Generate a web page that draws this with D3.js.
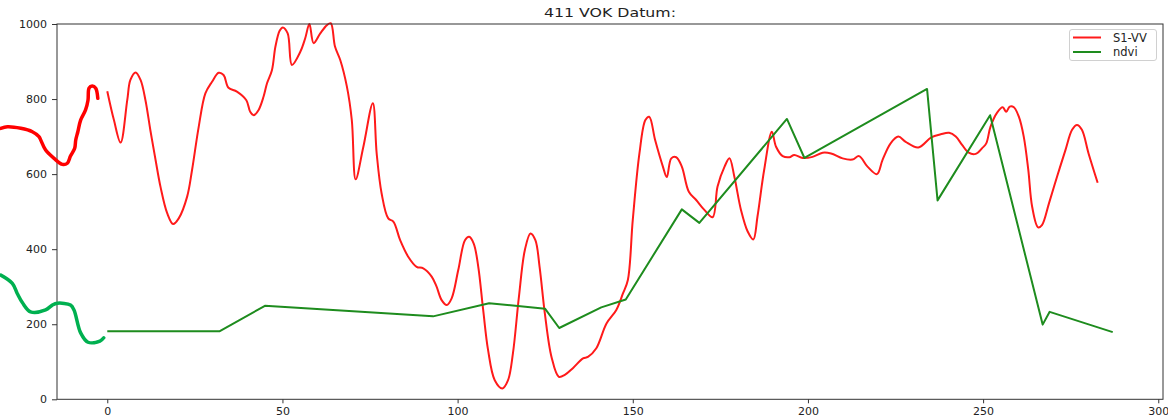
<!DOCTYPE html>
<html><head><meta charset="utf-8">
<script src="https://cdn.jsdelivr.net/npm/d3@7"></script>
<style>
html,body{margin:0;padding:0;background:#fff;}
svg{display:block;font-family:"DejaVu Sans",sans-serif;}
</style></head>
<body><svg id="c" width="1168" height="418"></svg>
<script>
// S1-VV series (day, value)
const vvDays = [0,1.9,3.8,5.7,6.6,8.1,9.5,10.9,12.3,13.8,15.2,17.1,18.8,20.4,22.8,24.2,26.1,28,29.9,31.8,33.2,34.6,37,39.7,40.8,41.8,43.2,44.6,45.6,47,48,49.2,50.1,51.5,52.7,55.1,56.5,57.7,58.9,60.8,62.7,63.8,65,66.5,68.4,69.8,70.9,73.1,75.8,76.9,78.3,80.2,81.7,83.6,85.9,88.3,90.2,92.6,94,95.4,96.9,98.3,100.2,102.1,103.3,104.6,105.9,107.3,108.7,110.6,112.8,114.4,115.8,117.5,119.2,120.8,122.2,123.4,124.9,126.8,128.9,130.6,132.9,135.8,137.2,139.6,142.5,145.3,147.2,148.6,150,151.9,153.6,154.7,156.4,158.6,159.7,161,162.4,164,166,168.1,170.5,172.8,174.2,176.2,177.6,179,180.9,182.8,184.4,185.6,187.5,189.7,190.9,192.8,194.7,196.1,198.5,201.3,204.2,206.6,209.9,212.7,214.6,217,219.7,221.3,223.6,225.8,227.9,231.5,235.2,237.9,240.3,242.2,244,245.9,247.9,249.7,250.9,252.1,254,255.6,256.6,257.6,258.8,260.2,261.6,262.9,264,265.7,266.8,268.8,271.1,273.5,275.4,276.8,278.2,280.1,282.7];
const vvValues = [821,744,684,797,851,871,851,797,717,637,566,496,467,482,540,611,726,815,846,870,864,830,820,797,766,757,771,806,842,877,940,982,991,975,891,926,962,1000,949,975,997,1002,940,904,833,744,586,673,789,655,549,482,473,424,380,353,349,327,300,265,251,269,345,424,433,415,353,238,131,51,29,51,123,273,398,442,424,353,229,113,60,65,83,109,113,136,202,238,282,318,478,655,744,753,690,620,592,642,645,620,553,531,504,485,567,620,642,593,504,447,426,487,611,713,673,648,645,651,643,646,657,655,642,639,648,620,600,638,682,700,686,671,698,706,710,700,678,657,654,669,682,726,764,778,766,780,778,753,700,611,513,458,464,522,593,664,718,731,718,655,577];
// NDVI series
const ndviDays = [0,32,45,93,109,125,129,141,148,164,169,194,199,234,237,252,267,269,287];
const ndviValues = [181,181,249,221,256,241,190,245,266,506,470,747,643,827,530,757,199,233,179];
// hand-drawn annotation strokes (in data units)
const markRedX = [-30.4,-28.5,-24.7,-21.4,-19.5,-19.0,-17.6,-15.2,-12.8,-11.4,-10.5,-9.3,-9.0,-8.4,-7.6,-6.2,-5.5,-5.2,-4.3,-3.3,-2.7];
const markRedY = [722,726,722,713,700,691,664,642,626,629,648,669,691,713,744,771,797,829,835,829,802];
const markGreenX = [-30.4,-27.1,-25.7,-24.2,-21.9,-17.6,-15.7,-14.2,-10.5,-9.5,-7.6,-5.5,-2.1,-1.0];
const markGreenY = [331,309,282,257,233,238,251,256,251,238,177,152,155,164];
const xTicks = [0,50,100,150,200,250,300];
const yTicks = [0,200,400,600,800,1000];
const title = "411 VOK Datum:";
const seriesNames = ["S1-VV","ndvi"];

const svg = d3.select("#c");
const L=57, R=1163, T=24, B=399.3;
const x = d3.scaleLinear().domain([-14.35,301.35]).range([L,R]);
const y = d3.scaleLinear().domain([0,1000]).range([B,T]);

svg.append("defs").append("clipPath").attr("id","clip")
  .append("rect").attr("x",L).attr("y",T-2).attr("width",R-L).attr("height",B-T+2);

const axisColor="#333";
// x axis
const gx = svg.append("g").attr("transform",`translate(0,${B})`)
  .call(d3.axisBottom(x).tickValues(xTicks).tickFormat(d3.format("d")).tickSize(4).tickPadding(4));
gx.select(".domain").remove();
gx.selectAll("line").attr("stroke",axisColor);
gx.selectAll("text").attr("font-size","11px").attr("fill","#222").attr("font-family","DejaVu Sans");
// y axis
const gy = svg.append("g").attr("transform",`translate(${L},0)`)
  .call(d3.axisLeft(y).tickValues(yTicks).tickFormat(d3.format("d")).tickSize(5).tickPadding(5));
gy.select(".domain").remove();
gy.selectAll("line").attr("stroke",axisColor);
gy.selectAll("text").attr("font-size","11px").attr("fill","#222").attr("font-family","DejaVu Sans");

const plot = svg.append("g").attr("clip-path","url(#clip)");
const vv = vvDays.map((d,i)=>[d,vvValues[i]]);
const nd = ndviDays.map((d,i)=>[d,ndviValues[i]]);
const lineSmooth = d3.line().x(d=>x(d[0])).y(d=>y(d[1])).curve(d3.curveCatmullRom.alpha(0.5));
const lineLin = d3.line().x(d=>x(d[0])).y(d=>y(d[1]));
plot.append("path").attr("d",lineSmooth(vv)).attr("fill","none").attr("stroke","#ff1a1a").attr("stroke-width",2).attr("stroke-linejoin","round");
plot.append("path").attr("d",lineLin(nd)).attr("fill","none").attr("stroke","#1e8c1e").attr("stroke-width",2).attr("stroke-linejoin","round");

// frame
svg.append("rect").attr("x",L).attr("y",T).attr("width",R-L).attr("height",B-T)
  .attr("fill","none").attr("stroke",axisColor).attr("stroke-width",1);

// title
svg.append("text").attr("x",(L+R)/2).attr("y",17).attr("text-anchor","middle")
  .attr("font-size","12.5px").attr("fill","#222").attr("textLength",132).attr("lengthAdjust","spacingAndGlyphs").text(title);

// legend
const lg = svg.append("g");
lg.append("rect").attr("x",1069.5).attr("y",29.5).attr("width",87).attr("height",31).attr("rx",2.5)
  .attr("fill","#fff").attr("fill-opacity",0.8).attr("stroke","#d0d0d0");
const lc = ["#ff1a1a","#1e8c1e"];
seriesNames.forEach((n,i)=>{
  const yy = 37.5 + i*14.5;
  lg.append("line").attr("x1",1073).attr("x2",1101).attr("y1",yy).attr("y2",yy).attr("stroke",lc[i]).attr("stroke-width",2);
  lg.append("text").attr("x",1113).attr("y",yy+4).attr("font-size","11.5px").attr("fill","#222").text(n);
});

// hand-drawn annotation strokes
const mr = markRedX.map((d,i)=>[d,markRedY[i]]);
const mg = markGreenX.map((d,i)=>[d,markGreenY[i]]);
svg.append("path").attr("d",lineSmooth(mr)).attr("fill","none").attr("stroke","#ff0000").attr("stroke-width",3.5).attr("stroke-linecap","round").attr("stroke-linejoin","round");
svg.append("path").attr("d",lineSmooth(mg)).attr("fill","none").attr("stroke","#00b050").attr("stroke-width",3.5).attr("stroke-linecap","round").attr("stroke-linejoin","round");
</script></body></html>
